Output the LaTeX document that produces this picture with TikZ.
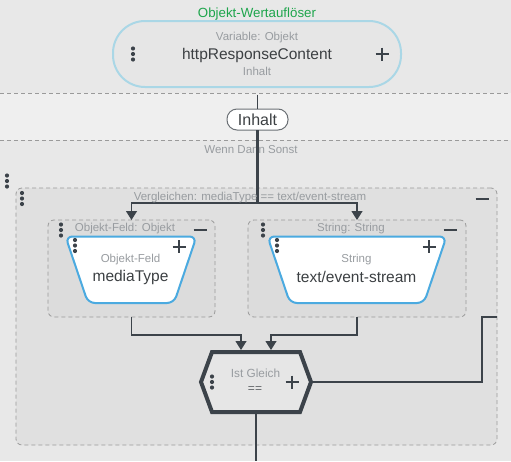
\documentclass[tikz,border=0pt]{standalone}
\usepackage{fontspec}
\setmainfont{Liberation Sans}
\usetikzlibrary{arrows.meta,calc}
\definecolor{bgc}{HTML}{E8E8E8}
\definecolor{bandc}{HTML}{EFEFEF}
\definecolor{boxf}{HTML}{E0E0E0}
\definecolor{innerf}{HTML}{DCDCDC}
\definecolor{dashc}{HTML}{9A9A9A}
\definecolor{linec}{HTML}{3C434A}
\definecolor{lbltxt}{HTML}{989CA0}
\definecolor{darktxt}{HTML}{3C4043}
\definecolor{greent}{HTML}{1EA54C}
\definecolor{stadb}{HTML}{AAD7E6}
\definecolor{stadf}{HTML}{E6E6E6}
\definecolor{trapb}{HTML}{4BAAE0}
\definecolor{pillb}{HTML}{6B7075}
\definecolor{hexf}{HTML}{E6E6E6}
\begin{document}
\begin{tikzpicture}[x=1pt,y=-1pt,
  every node/.style={inner sep=0pt, outer sep=0pt},
  lbl/.style={text=lbltxt, font=\fontsize{11.5}{13}\selectfont},
  maintxt/.style={text=darktxt, font=\fontsize{15.5}{18}\selectfont},
  dbox/.style={draw=dashc, line width=0.8pt, dash pattern=on 4pt off 3pt, rounded corners=6pt},
  conn/.style={draw=linec, line width=1.2pt},
  thickconn/.style={draw=linec, line width=2.5pt},
  arr/.style={-{Triangle[width=11pt,length=9pt]}},
  trap/.style={draw=trapb, line width=2pt, fill=white, rounded corners=7pt},
  dotsv/.pic={\fill[linec] (0,-5.5) circle (2.1pt) (0,0) circle (2.1pt) (0,5.5) circle (2.1pt);},
  plusmark/.pic={\draw[linec, line width=2pt] (-6.5,0)--(6.5,0) (0,-6.5)--(0,6.5);},
  minusmark/.pic={\draw[linec, line width=2pt] (-6.5,0)--(6.5,0);},
]
% background
\fill[bgc] (0,0) rectangle (511,461);
\useasboundingbox (0,0) rectangle (511,461);
\fill[bandc] (0,93) rectangle (511,140);
\draw[dashc, line width=0.8pt, dash pattern=on 4pt off 3pt] (0,93) -- (511,93) (0,140) -- (511,140);

% top variable block
\node[text=greent, font=\fontsize{13.3}{15}\selectfont] (title) at (257,14) {Objekt-Wertauflöser};
\node[draw=stadb, line width=2pt, fill=stadf, rounded corners=32pt, minimum width=288pt, minimum height=66pt] (var) at (257,54) {};
\node[lbl] (vartype) at (257,38) {Variable: Objekt};
\node[maintxt] (varname) at (257,55) {httpResponseContent};
\node[lbl] (varprop) at (257,71) {Inhalt};
\pic at (133,54) {dotsv};
\pic at (382,54) {plusmark};

% pill
\node[draw=pillb, line width=1pt, fill=white, rounded corners=10pt, minimum width=61pt, minimum height=21pt, text=darktxt, font=\fontsize{16}{18}\selectfont] (pill) at (257.5,119.5) {Inhalt};
\node[lbl] (wds label) at (251,150) {Wenn Dann Sonst};

% containers
\pic at (7,181) {dotsv};
\node[dbox, fill=boxf, minimum width=481pt, minimum height=257pt] (wds) at (256.5,316.5) {};
\node[dbox, fill=innerf, minimum width=167pt, minimum height=97pt] (lbox) at (131.5,268.5) {};
\node[dbox, fill=innerf, minimum width=218pt, minimum height=97pt] (rbox) at (357,268.5) {};

% connectors
\coordinate (c0) at (257.5,94.5);
\coordinate (split) at (257.5,203);
\coordinate (in1) at (241,350);
\coordinate (in2) at (271,350);
\coordinate (bend) at (482,317);
\coordinate (wout) at (497,317);
\coordinate (bot) at (256,461);
\node[minimum width=110pt, minimum height=60pt] (eq) at (256,382) {};

\draw[conn, line width=1pt] (c0) -- (pill.north);
\draw[thickconn] (pill.south) -- (split);
\draw[conn, arr] (split) -| (lbox.north);
\draw[conn, arr] (split) -| (rbox.north);
\draw[conn, arr] (lbox.south) -- ++(0,18) -| (in1);
\draw[conn, arr] (rbox.south) -- ++(0,18) -| (in2);
\draw[conn] (eq.east) -| (bend) -- (wout);
\draw[thickconn] (eq.south) -- (bot);

% labels of containers
\node[lbl] (cmp) at (250,198) {Vergleichen: mediaType == text/event-stream};
\pic at (22,198.5) {dotsv};
\pic at (482,199) {minusmark};
\node[lbl] (lboxlbl) at (125,229) {Objekt-Feld: Objekt};
\pic at (61,230) {dotsv};
\pic at (200,230) {minusmark};
\node[lbl] (rboxlbl) at (351,229) {String: String};
\pic at (263,230) {dotsv};
\pic at (450,230) {minusmark};

% trapezoids
\draw[trap] (65.5,236.5) -- (196.5,236.5) -- (174,303) -- (88,303) -- cycle;
\draw[trap] (267.5,236.5) -- (446.5,236.5) -- (424,303) -- (290,303) -- cycle;
\pic at (75,245.5) {dotsv};
\pic at (179,246.5) {plusmark};
\pic at (277,245.5) {dotsv};
\pic at (429,246.5) {plusmark};
\node[lbl] (lft) at (130.5,260) {Objekt-Feld};
\node[maintxt] (lfv) at (130.5,277) {mediaType};
\node[lbl] (rgt) at (356.5,260) {String};
\node[maintxt] (rgv) at (356.5,277) {text/event-stream};

% hexagon
\draw[linec, line width=4pt, fill=hexf, line join=miter] (201,382) -- (212,352) -- (300,352) -- (311,382) -- (300,412) -- (212,412) -- cycle;
\node[lbl, font=\fontsize{11.8}{13}\selectfont] (eqlbl) at (255.5,373) {Ist Gleich};
\node[text=darktxt!80, font=\fontsize{12}{13}\selectfont] (eqop) at (255,390) {==};
\pic at (212,382) {dotsv};
\pic at (292,382) {plusmark};
\end{tikzpicture}
\end{document}
